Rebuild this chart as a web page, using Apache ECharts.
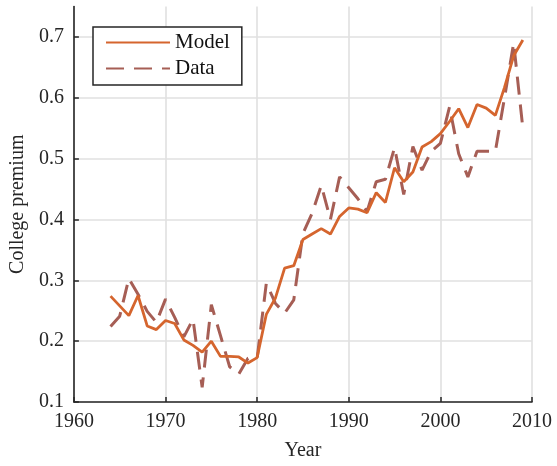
<!DOCTYPE html>
<html>
<head>
<meta charset="utf-8">
<script src="https://cdn.jsdelivr.net/npm/echarts@6/dist/echarts.min.js"></script>
<style>
  html, body { margin: 0; padding: 0; background: #fff; }
  #chart { width: 557px; height: 466px; }
</style>
</head>
<body>
<div id="chart"></div>
<script>
const years = [1964, 1965, 1966, 1967, 1968, 1969, 1970, 1971, 1972, 1973,
  1974, 1975, 1976, 1977, 1978, 1979, 1980, 1981, 1982, 1983, 1984, 1985,
  1986, 1987, 1988, 1989, 1990, 1991, 1992, 1993, 1994, 1995, 1996, 1997,
  1998, 1999, 2000, 2001, 2002, 2003, 2004, 2005, 2006, 2007, 2008, 2009];

const modelValues = [0.274, 0.258, 0.242, 0.275, 0.225, 0.219, 0.234, 0.229, 0.202, 0.193,
  0.182, 0.200, 0.175, 0.175, 0.174, 0.164, 0.173, 0.244, 0.271, 0.320, 0.324, 0.367,
  0.376, 0.385, 0.376, 0.405, 0.419, 0.417, 0.411, 0.444, 0.428, 0.485, 0.462, 0.478,
  0.519, 0.528, 0.541, 0.561, 0.582, 0.551, 0.589, 0.583, 0.571, 0.617, 0.669, 0.695];

const dataValues = [0.224, 0.241, 0.303, 0.277, 0.249, 0.231, 0.269, 0.239, 0.207, 0.236,
  0.124, 0.260, 0.209, 0.158, 0.146, 0.172, 0.172, 0.295, 0.262, 0.246, 0.268, 0.377,
  0.410, 0.456, 0.400, 0.470, 0.452, 0.434, 0.413, 0.462, 0.466, 0.518, 0.441, 0.520,
  0.481, 0.512, 0.525, 0.585, 0.508, 0.470, 0.512, 0.512, 0.512, 0.600, 0.690, 0.550];

const xTicks = [1960, 1970, 1980, 1990, 2000, 2010];
const yTicks = [0.1, 0.2, 0.3, 0.4, 0.5, 0.6, 0.7];

const font = '"Liberation Serif", "Times New Roman", serif';
const ink = '#262626';

const chart = echarts.init(document.getElementById('chart'), null, { renderer: 'canvas' });

chart.setOption({
  animation: false,
  backgroundColor: '#ffffff',
  textStyle: { fontFamily: font },
  grid: { left: 73.5, right: 25, top: 6.5, bottom: 64 },
  legend: {
    left: 93,
    top: 27,
    orient: 'vertical',
    backgroundColor: '#ffffff',
    borderColor: ink,
    borderWidth: 1.5,
    borderRadius: 0,
    padding: [5, 12, 6, 12],
    itemGap: 5,
    itemWidth: 64,
    itemHeight: 20,
    itemStyle: { opacity: 0, borderWidth: 0 },
    textStyle: { fontFamily: font, fontSize: 21, color: '#111' },
    data: ['Model', 'Data']
  },
  xAxis: {
    type: 'value',
    min: 1960,
    max: 2010,
    interval: 10,
    name: 'Year',
    nameLocation: 'middle',
    nameGap: 39,
    nameTextStyle: { fontFamily: font, fontSize: 20, color: ink },
    axisLine: { show: true, lineStyle: { color: ink, width: 1.6 } },
    axisTick: { show: true, inside: true, length: 5, lineStyle: { color: ink, width: 1.5 }, customValues: xTicks },
    axisLabel: { fontFamily: font, fontSize: 20, color: ink, margin: 10, customValues: xTicks,
      formatter: v => String(v) },
    splitLine: { show: true, lineStyle: { color: '#e0e0e0', width: 1.6 } }
  },
  yAxis: {
    type: 'value',
    min: 0.1,
    max: 0.75,
    interval: 0.1,
    name: 'College premium',
    nameLocation: 'middle',
    nameGap: 40,
    nameTextStyle: { fontFamily: font, fontSize: 20, color: ink },
    axisLine: { show: true, lineStyle: { color: ink, width: 1.6 } },
    axisTick: { show: true, inside: true, length: 5, lineStyle: { color: ink, width: 1.5 }, customValues: yTicks },
    axisLabel: { fontFamily: font, fontSize: 20, color: ink, margin: 10, customValues: yTicks,
      formatter: v => v.toFixed(1) },
    splitLine: { show: true, lineStyle: { color: '#e0e0e0', width: 1.6 } }
  },
  series: [
    {
      name: 'Model',
      type: 'line',
      symbol: 'none',
      z: 3,
      lineStyle: { color: '#d5652e', width: 2.8 },
      itemStyle: { color: '#d5652e' },
      data: years.map((y, i) => [y, modelValues[i]])
    },
    {
      name: 'Data',
      type: 'line',
      symbol: 'none',
      z: 2,
      lineStyle: { color: '#a65e55', width: 3, type: [18, 10] },
      itemStyle: { color: '#a65e55' },
      data: years.map((y, i) => [y, dataValues[i]])
    }
  ]
});
</script>
</body>
</html>
